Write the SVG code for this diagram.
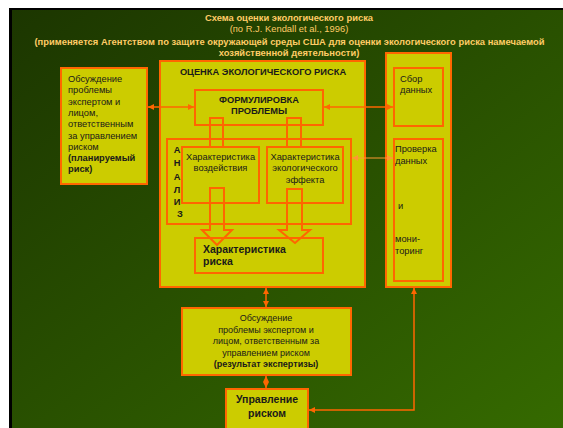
<svg xmlns="http://www.w3.org/2000/svg" width="563" height="428" viewBox="0 0 563 428">
<defs>
<linearGradient id="bg" x1="0" y1="0" x2="1" y2="1">
<stop offset="0" stop-color="#1c3600"/>
<stop offset="1" stop-color="#356a00"/>
</linearGradient>
<marker id="ah" viewBox="0 0 6 6" refX="6" refY="3" markerWidth="6" markerHeight="6" markerUnits="userSpaceOnUse" orient="auto-start-reverse">
<path d="M0,0 L6,3 L0,6 z" fill="#ff6600"/>
</marker>
<marker id="ahl" viewBox="0 0 6 6" refX="6" refY="3" markerWidth="6" markerHeight="6" markerUnits="userSpaceOnUse" orient="auto-start-reverse">
<path d="M0,0 L6,3 L0,6 z" fill="#ff9933"/>
</marker>
</defs>
<style>
.box{fill:#cccc00;stroke:#ff6600;stroke-width:2}
.ol{fill:none;stroke:#ff6600;stroke-width:2}
.t{font-family:"Liberation Sans",Arial,sans-serif;font-size:9.3px;fill:#1a1a1a}
.b{font-weight:bold}
.ti{font-family:"Liberation Sans",Arial,sans-serif;font-size:9.4px;fill:#ffcc66;text-anchor:middle}
.c{stroke:#ff6600;stroke-width:1.5;fill:none;marker-start:url(#ah);marker-end:url(#ah)}
.cl{stroke:#ff9933;stroke-width:1;fill:none;marker-start:url(#ahl);marker-end:url(#ahl)}
.m{text-anchor:middle}
</style>
<rect x="9" y="8" width="554" height="420" fill="#000"/>
<rect x="12" y="10" width="551" height="418" fill="url(#bg)"/>
<g id="title">
<text class="ti b" x="289" y="21">Схема оценки экологического риска</text>
<text class="ti" x="289" y="32">(по R.J. Kendall et al., 1996)</text>
<text class="ti b" x="289.5" y="44.5">(применяется Агентством по защите окружающей среды США для оценки экологического риска намечаемой</text>
<text class="ti b" x="289" y="55.5">хозяйственной деятельности)</text>
</g>
<g id="discussion-planned">
<rect class="box" x="61" y="68" width="86" height="116"/>
<text class="t" x="68" y="82">Обсуждение</text>
<text class="t" x="68" y="93.3">проблемы</text>
<text class="t" x="68" y="104.6">экспертом и</text>
<text class="t" x="68" y="115.9">лицом,</text>
<text class="t" x="68" y="127.2">ответственным</text>
<text class="t" x="68" y="138.5">за управлением</text>
<text class="t" x="68" y="149.8">риском</text>
<text class="t b" x="68" y="161.1">(планируемый</text>
<text class="t b" x="68" y="172.4">риск)</text>
</g>
<g id="assessment">
<rect class="box" x="160" y="61" width="205" height="226"/>
<text class="t b m" x="263" y="75">ОЦЕНКА ЭКОЛОГИЧЕСКОГО РИСКА</text>
</g>
<g id="formulation">
<rect class="box" x="195" y="90" width="128" height="35"/>
<text class="t b m" x="259" y="103">ФОРМУЛИРОВКА</text>
<text class="t b m" x="259" y="114">ПРОБЛЕМЫ</text>
</g>
<g id="analysis">
<rect class="box" x="167" y="139" width="184" height="85"/>
<g class="t b m">
<text x="177" y="152.5">А</text>
<text x="177" y="166">Н</text>
<text x="177" y="179.5">А</text>
<text x="177" y="192.5">Л</text>
<text x="177" y="204.5">И</text>
<text x="180" y="217">З</text>
</g>
</g>
<g id="exposure">
<rect class="box" x="182" y="147" width="77" height="56"/>
<text class="t m" x="220.5" y="160">Характеристика</text>
<text class="t m" x="220.5" y="171.3">воздействия</text>
</g>
<g id="effect">
<rect class="box" x="267" y="147" width="76" height="56"/>
<text class="t m" x="305" y="160">Характеристика</text>
<text class="t m" x="305" y="171.3">экологического</text>
<text class="t m" x="305" y="182.6">эффекта</text>
</g>
<g id="risk">
<rect class="box" x="195" y="238" width="128" height="35"/>
<text class="t b" x="203" y="253" style="font-size:10.5px">Характеристика</text>
<text class="t b" x="203" y="265" style="font-size:10.5px">риска</text>
</g>
<g id="data-column">
<rect class="box" x="386" y="53" width="65" height="234"/>
</g>
<g id="data-collection">
<rect class="box" x="394" y="68" width="49" height="58"/>
<text class="t" x="400" y="82">Сбор</text>
<text class="t" x="400" y="93">данных</text>
</g>
<g id="monitoring">
<rect class="box" x="394" y="139" width="49" height="142"/>
<text class="t" x="395" y="152">Проверка</text>
<text class="t" x="395" y="164">данных</text>
<text class="t" x="398" y="209">и</text>
<text class="t" x="395" y="242">мони-</text>
<text class="t" x="395" y="254">торинг</text>
</g>
<g id="discussion-result">
<rect class="box" x="182" y="308" width="169" height="67"/>
<text class="t m" x="266" y="321" style="font-size:9px">Обсуждение</text>
<text class="t m" x="266" y="332.5" style="font-size:9px">проблемы экспертом и</text>
<text class="t m" x="266" y="344" style="font-size:9px">лицом, ответственным за</text>
<text class="t m" x="266" y="355.5" style="font-size:9px">управлением риском</text>
<text class="t b m" x="266" y="367" style="font-size:9px">(результат экспертизы)</text>
</g>
<g id="management">
<rect class="box" x="226" y="389" width="82" height="45"/>
<text class="t b m" x="267" y="403" style="font-size:10.5px">Управление</text>
<text class="t b m" x="267" y="417" style="font-size:10.5px">риском</text>
</g>
<g id="connectors">
<rect class="ol" x="210" y="118" width="13" height="29"/>
<rect class="ol" x="287" y="118" width="14" height="29"/>
<path class="ol" d="M210,188 H224 V230 H232 L217,245 L202,230 H210 Z"/>
<path class="ol" d="M287,189 H302 V230 H310 L295,243 L279,230 H287 Z"/>
<line class="c" x1="148" y1="107" x2="194" y2="107"/>
<line class="c" x1="324" y1="107" x2="393" y2="107"/>
<line class="cl" x1="352" y1="158" x2="393" y2="158"/>
<line class="c" x1="266" y1="288" x2="266" y2="307"/>
<line class="c" x1="266" y1="376" x2="266" y2="388"/>
<polyline class="c" points="414,288 414,410 309,410"/>
</g>
</svg>
